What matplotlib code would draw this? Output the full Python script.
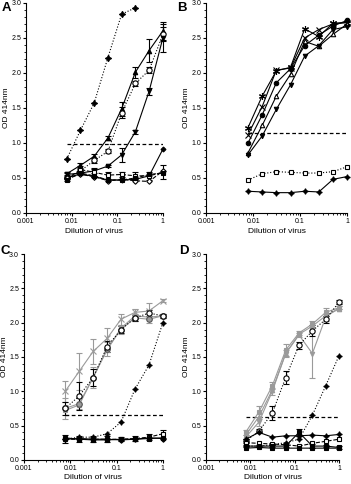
import matplotlib.pyplot as plt
import numpy as np
from matplotlib.ticker import MultipleLocator, LogLocator, FixedLocator, StrMethodFormatter

plt.rcParams['font.family'] = ['Liberation Sans', 'DejaVu Sans']

# dilutions 1/128 ... 1
dil = [1/128, 1/64, 1/32, 1/16, 1/8, 1/4, 1/2, 1]

# Panel A
a_plus = [0.77, 1.18, 1.57, 2.22, 2.84, 2.93]
a_tri = [0.56, 0.68, 0.81, 1.07, 1.49, 2.01, 2.32, 2.60]
a_tri_err = [0.02, 0.04, 0.03, 0.03, 0.10, 0.08, 0.16, 0.13]
a_circ = [0.50, 0.60, 0.75, 0.88, 1.43, 1.85, 2.04, 2.55]
a_circ_err = [0.02, 0.03, 0.03, 0.03, 0.08, 0.04, 0.04, 0.10]
a_dtri = [0.55, 0.57, 0.60, 0.67, 0.83, 1.16, 1.74, 2.50]
a_dtri_err = [0.02, 0.03, 0.03, 0.02, 0.10, 0.03, 0.05, 0.20]
a_fdia = [0.50, 0.56, 0.52, 0.47, 0.47, 0.48, 0.53, 0.91]
a_osq = [0.48, 0.62, 0.58, 0.54, 0.55, 0.53, 0.53, 0.58]
a_osq_err = [0.02, 0.05, 0.06, 0.05, 0.04, 0.05, 0.06, 0.10]
a_odia = [0.50, 0.55, 0.52, 0.46, 0.48, 0.46, 0.45, 0.60]
a_fsq = [0.47, 0.57, 0.53, 0.47, 0.47, 0.50, 0.55, 0.57]
a_cut = 0.98

# Panel B
b_star = [1.22, 1.67, 2.03, 2.08, 2.63, 2.52, 2.71, 2.72]
b_x = [1.12, 1.52, 2.04, 2.07, 2.50, 2.62, 2.70, 2.72]
b_fcirc = [1.00, 1.40, 1.86, 2.06, 2.39, 2.54, 2.67, 2.75]
b_otri = [0.86, 1.25, 1.67, 1.98, 2.45, 2.38, 2.55, 2.70]
b_dtri = [0.83, 1.10, 1.48, 1.83, 2.24, 2.39, 2.62, 2.66]
b_osq = [0.47, 0.56, 0.59, 0.58, 0.57, 0.57, 0.59, 0.66]
b_fdia = [0.31, 0.30, 0.29, 0.29, 0.31, 0.30, 0.48, 0.52]
b_cut = 1.14

# Panel C
c_x = [1.00, 1.29, 1.58, 1.77, 2.05, 2.15, 2.17, 2.32]
c_x_err = [0.15, 0.27, 0.18, 0.15, 0.08, 0.05, 0.12, 0.02]
c_gcirc = [0.75, 0.82, 1.20, 1.62, 1.90, 2.07, 2.05, 2.10]
c_gcirc_err = [0.15, 0.08, 0.15, 0.10, 0.07, 0.05, 0.05, 0.03]
c_ocirc = [0.75, 0.93, 1.20, 1.65, 1.90, 2.07, 2.14, 2.10]
c_ocirc_err = [0.10, 0.20, 0.12, 0.08, 0.05, 0.04, 0.05, 0.03]
c_gsq = [0.72, 0.80, 1.20, 1.60, 1.92, 2.10, 2.08, 2.10]
c_plus = [0.30, 0.33, 0.33, 0.38, 0.55, 1.03, 1.38, 2.00]
c_fsq = [0.32, 0.30, 0.29, 0.29, 0.30, 0.30, 0.31, 0.32]
c_fdia = [0.30, 0.31, 0.30, 0.30, 0.29, 0.30, 0.32, 0.31]
c_osq = [0.30, 0.30, 0.30, 0.30, 0.30, 0.31, 0.33, 0.38]
c_low_err = [0.06, 0.04, 0.04, 0.04, 0.03, 0.03, 0.04, 0.06]
c_cut = 0.65

# Panel D
d_g1 = [0.40, 0.70, 1.08, 1.60, 1.85, 1.98, 2.15, 2.22]
d_g1_err = [0.04, 0.08, 0.05, 0.09, 0.03, 0.04, 0.06, 0.02]
d_g2 = [0.36, 0.63, 1.02, 1.55, 1.83, 1.95, 2.10, 2.20]
d_g3 = [0.33, 0.55, 1.00, 1.55, 1.82, 1.55, 2.08, 2.22]
d_g3_err = [0.03, 0.05, 0.05, 0.05, 0.03, 0.35, 0.05, 0.02]
d_ocirc = [0.27, 0.42, 0.68, 1.20, 1.67, 1.88, 2.05, 2.30]
d_ocirc_err = [0.03, 0.03, 0.10, 0.10, 0.05, 0.08, 0.05, 0.03]
d_plus = [0.20, 0.20, 0.22, 0.25, 0.30, 0.65, 1.08, 1.52]
d_fdia = [0.30, 0.40, 0.33, 0.35, 0.35, 0.36, 0.35, 0.37]
d_osq = [0.25, 0.24, 0.23, 0.22, 0.20, 0.24, 0.27, 0.30]
d_fsq = [0.17, 0.18, 0.17, 0.17, 0.17, 0.17, 0.17, 0.17]
d_spike = [0.20, 0.20, 0.20, 0.20, 0.40, 0.20, 0.20, 0.18]
d_spike_err = [0.02, 0.02, 0.02, 0.02, 0.05, 0.03, 0.02, 0.02]
d_cut = 0.62

G = '#9a9a9a'
K = 'black'
lw = 0.8
STAR4 = (4, 1, 0)


def line(ax, y, marker, ls='-', color=K, mfc=None, err=None, ms=3.2, mec=None, zorder=3):
    x = dil[:len(y)]
    if mfc is None:
        mfc = color
    if mec is None:
        mec = color
    ax.errorbar(x, y, yerr=err, color=color, ls=ls, lw=lw, marker=marker,
                ms=ms, mfc=mfc, mec=mec, mew=0.8, capsize=2, elinewidth=0.8,
                capthick=0.8, clip_on=False, zorder=zorder)


def style(ax, cut):
    ax.set_xscale('log')
    ax.set_xlim(0.001, 1)
    ax.set_ylim(0, 3.0)
    ax.hlines(cut, dil[0], 1, colors=K, linestyles=(0, (3, 2)), lw=0.9)
    for s in ['top', 'right']:
        ax.spines[s].set_visible(False)
    ax.spines['left'].set_linewidth(0.8)
    ax.spines['bottom'].set_linewidth(0.8)
    ax.xaxis.set_major_locator(FixedLocator([0.001, 0.01, 0.1, 1]))
    ax.xaxis.set_minor_locator(LogLocator(base=10, subs=np.arange(2, 10)))
    ax.set_xticklabels(['0.001', '0.01', '0.1', '1'])
    ax.yaxis.set_major_locator(MultipleLocator(0.5))
    ax.yaxis.set_minor_locator(MultipleLocator(0.1))
    ax.yaxis.set_major_formatter(StrMethodFormatter('{x:.1f}'))
    ax.tick_params(which='major', length=2.5, width=0.8, labelsize=5, pad=1)
    ax.tick_params(which='minor', length=1.3, width=0.6)
    ax.set_xlabel('Dilution of virus', fontsize=6, labelpad=2)
    ax.set_ylabel('OD 414nm', fontsize=6, labelpad=1)


fig = plt.figure(figsize=(3.51, 4.84), dpi=100)
axA = fig.add_axes([0.074, 0.560, 0.390, 0.434])
axB = fig.add_axes([0.587, 0.560, 0.402, 0.434])
axC = fig.add_axes([0.068, 0.050, 0.396, 0.425])
axD = fig.add_axes([0.587, 0.050, 0.379, 0.425])

# A
line(axA, a_plus, STAR4, ls=':', ms=4.5)
line(axA, a_tri, '^', err=a_tri_err)
line(axA, a_circ, 'o', ls=':', mfc='white', err=a_circ_err, ms=3.8)
line(axA, a_dtri, 'v', err=a_dtri_err)
line(axA, a_fdia, 'D', ms=2.5)
line(axA, a_osq, 's', ls='--', mfc='white', err=a_osq_err)
line(axA, a_odia, 'D', ls='--', mfc='white', ms=2.8)
line(axA, a_fsq, 's', ls='--', ms=2.8)
style(axA, a_cut)

# B
line(axB, b_star, (6, 2, 0), ms=5)
line(axB, b_x, 'x', ms=4)
line(axB, b_fcirc, 'o')
line(axB, b_otri, '^', mfc='white')
line(axB, b_dtri, 'v')
line(axB, b_osq, 's', ls=':', mfc='white')
line(axB, b_fdia, STAR4, ms=4)
style(axB, b_cut)

# C
line(axC, c_x, 'x', color=G, err=c_x_err, ms=4)
line(axC, c_gsq, 's', color=G)
line(axC, c_gcirc, 'o', color=G, mec='#555555', err=c_gcirc_err, ms=4)
line(axC, c_ocirc, 'o', ls=':', mfc='white', err=c_ocirc_err, ms=3.8)
line(axC, c_plus, STAR4, ls=':', ms=4)
line(axC, c_osq, 's', ls='--', mfc='white', err=c_low_err)
line(axC, c_fdia, 'D', ms=2.8)
line(axC, c_fsq, 's', ms=3.2)
style(axC, c_cut)

# D
line(axD, d_g1, 's', color=G, err=d_g1_err)
line(axD, d_g2, '^', color=G)
line(axD, d_g3, 'v', color=G, err=d_g3_err)
line(axD, d_ocirc, 'o', ls=':', mfc='white', err=d_ocirc_err, ms=3.8)
line(axD, d_plus, STAR4, ls=':', ms=4)
line(axD, d_fdia, STAR4, ms=4)
line(axD, d_osq, 's', ls='--', mfc='white')
line(axD, d_spike, 's', ls='-', err=d_spike_err, ms=3)
line(axD, d_fsq, 's', ms=3)
style(axD, d_cut)

# panel letters
for lx, ly, letter in [(0.004, 0.995, 'A'), (0.505, 0.995, 'B'),
                       (0.002, 0.494, 'C'), (0.510, 0.494, 'D')]:
    fig.text(lx, ly, letter, fontsize=9.5, fontweight='bold', va='top', ha='left')

fig.savefig('out.png', dpi=100)
